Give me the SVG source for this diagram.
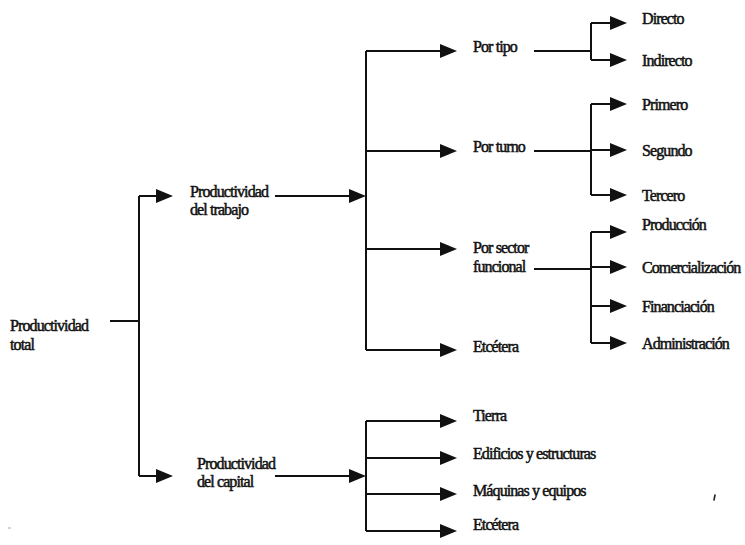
<svg xmlns="http://www.w3.org/2000/svg" width="745" height="545" viewBox="0 0 745 545">
  <style>
    .t { font-family: "Liberation Serif", "Times New Roman", serif; font-size: 16px; letter-spacing: -0.9px; fill: #111; stroke: #111; stroke-width: 0.5px; }
    .c { fill: none; stroke: #111; stroke-width: 2; }
    .a { fill: none; stroke: #111; stroke-width: 2; marker-end: url(#ah); }
  </style>
  <defs>
    <marker id="ah" markerUnits="userSpaceOnUse" viewBox="-18 -8 22 16" markerWidth="22" markerHeight="16" refX="-4" refY="0" orient="auto">
      <path d="M-17,-7 L0,0 L-17,7 Z" fill="#111"/>
    </marker>
  </defs>
  <rect width="745" height="545" fill="#fff"/>

  <!-- connectors -->
  <g id="connectors">
    <!-- root split -->
    <path class="c" d="M110,321 H139"/>
    <path class="c" d="M139,196 V476"/>
    <path class="a" d="M139,196 H169"/>
    <path class="a" d="M139,476 H169"/>

    <!-- labour branch -->
    <path class="a" d="M275,196 H362"/>
    <path class="c" d="M366,51 V350"/>
    <path class="a" d="M366,51 H453"/>
    <path class="a" d="M366,151 H453"/>
    <path class="a" d="M366,249 H453"/>
    <path class="a" d="M366,350 H453"/>

    <!-- by type -->
    <path class="c" d="M534,51 H591"/>
    <path class="c" d="M591,23 V60"/>
    <path class="a" d="M591,23 H623"/>
    <path class="a" d="M591,60 H623"/>

    <!-- by shift -->
    <path class="c" d="M534,151 H591"/>
    <path class="c" d="M591,104 V195"/>
    <path class="a" d="M591,104 H623"/>
    <path class="a" d="M591,150 H623"/>
    <path class="a" d="M591,195 H623"/>

    <!-- by functional sector -->
    <path class="c" d="M534,269 H591"/>
    <path class="c" d="M591,232 V343"/>
    <path class="a" d="M591,232 H623"/>
    <path class="a" d="M591,267 H623"/>
    <path class="a" d="M591,306 H623"/>
    <path class="a" d="M591,343 H623"/>

    <!-- capital branch -->
    <path class="a" d="M275,476 H362"/>
    <path class="c" d="M366,421 V531"/>
    <path class="a" d="M366,421 H453"/>
    <path class="a" d="M366,458 H453"/>
    <path class="a" d="M366,494 H453"/>
    <path class="a" d="M366,531 H453"/>
  </g>

  <!-- nodes -->
  <g id="n-total"><text class="t" x="10" y="331">Productividad</text><text class="t" x="10" y="350">total</text></g>
  <g id="n-trabajo"><text class="t" x="190" y="197">Productividad</text><text class="t" x="190" y="215">del trabajo</text></g>
  <g id="n-capital"><text class="t" x="197" y="469">Productividad</text><text class="t" x="197" y="487">del capital</text></g>

  <g id="n-tipo"><text class="t" x="473" y="52">Por tipo</text></g>
  <g id="n-turno"><text class="t" x="473" y="152">Por turno</text></g>
  <g id="n-sector"><text class="t" x="473" y="253">Por sector</text><text class="t" x="473" y="272">funcional</text></g>
  <g id="n-etc1"><text class="t" x="473" y="352">Etcétera</text></g>

  <g id="n-directo"><text class="t" x="642" y="24">Directo</text></g>
  <g id="n-indirecto"><text class="t" x="642" y="66">Indirecto</text></g>
  <g id="n-primero"><text class="t" x="642" y="110">Primero</text></g>
  <g id="n-segundo"><text class="t" x="642" y="156">Segundo</text></g>
  <g id="n-tercero"><text class="t" x="642" y="201">Tercero</text></g>
  <g id="n-produccion"><text class="t" x="642" y="230">Producción</text></g>
  <g id="n-comercializacion"><text class="t" x="642" y="273">Comercialización</text></g>
  <g id="n-financiacion"><text class="t" x="642" y="312">Financiación</text></g>
  <g id="n-administracion"><text class="t" x="642" y="349">Administración</text></g>

  <g id="n-tierra"><text class="t" x="473" y="421">Tierra</text></g>
  <g id="n-edificios"><text class="t" x="473" y="459">Edificios y estructuras</text></g>
  <g id="n-maquinas"><text class="t" x="473" y="496">Máquinas y equipos</text></g>
  <g id="n-etc2"><text class="t" x="473" y="530">Etcétera</text></g>

  <!-- small specks -->
  <path d="M715,495 L714,500" stroke="#222" stroke-width="1.6" stroke-linecap="round"/>
  <path d="M8,528 H11" stroke="#aaa" stroke-width="1"/>
</svg>
